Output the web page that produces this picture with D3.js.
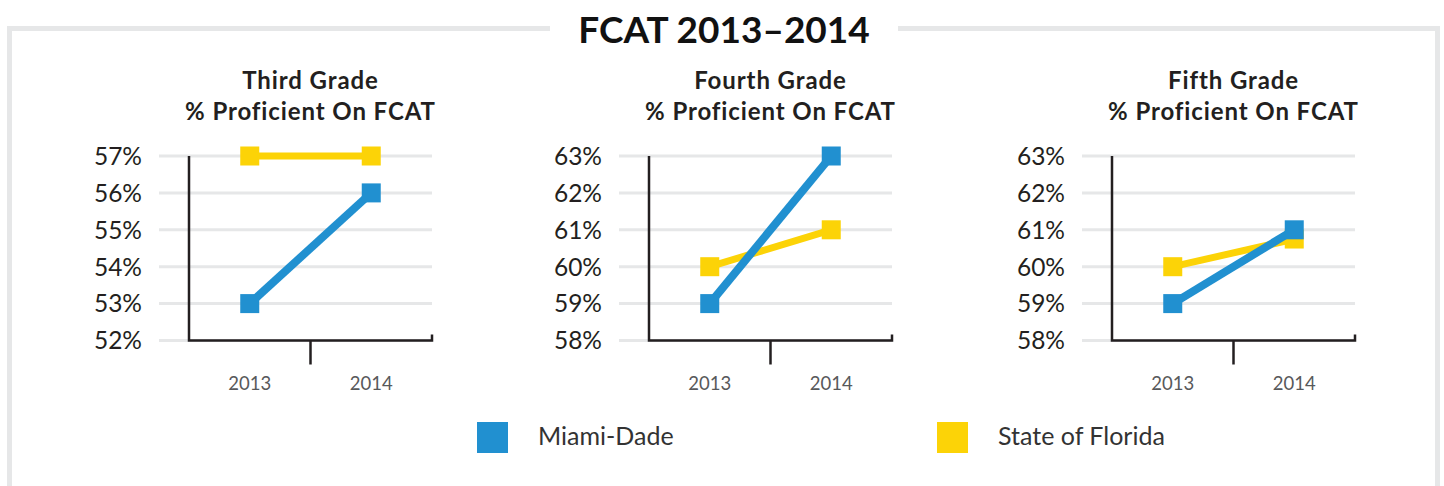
<!DOCTYPE html>
<html>
<head>
<meta charset="utf-8">
<script src="https://cdn.jsdelivr.net/npm/d3@7"></script>
<style>
  body { margin: 0; background: #fff; }
  text { font-family: Lato, "Open Sans", sans-serif; fill: #231f20; }
</style>
</head>
<body>
<div id="chart"></div>
<script>
// data
var years = ["2013", "2014"];
var grades = ["Third Grade", "Fourth Grade", "Fifth Grade"];
var miamiDade = [[53, 56], [59, 63], [59, 61]];
var stateFlorida = [[57, 57], [60, 61], [60, 60.75]];
var yDomains = [[52, 57], [58, 63], [58, 63]];
var seriesNames = ["Miami-Dade", "State of Florida"];
var title = "FCAT 2013\u20132014";

var colors = ["#2190d0", "#fcd307"];

var svg = d3.select('#chart').append('svg').attr("width", 1444).attr("height", 486);

// outer frame
svg.append("rect")
    .attr("x", 9.5).attr("y", 28.5)
    .attr("width", 1428).attr("height", 480)
    .attr("fill", "none")
    .attr("stroke", "#e6e7e8")
    .attr("stroke-width", 5);
svg.append("rect")
    .attr("x", 550).attr("y", 20)
    .attr("width", 348).attr("height", 16)
    .attr("fill", "#fff");
svg.append("text")
    .attr("x", 724).attr("y", 43)
    .attr("text-anchor", "middle")
    .style("font-size", "37px")
    .style("font-weight", "bold")
    .style("fill", "#111")
    .text(title);

var panelX = [189, 649, 1112];
var width = 243;
var yTop = 156, yBottom = 340.5;

grades.forEach(function (grade, i) {
    var g = svg.append("g").attr("transform", "translate(" + panelX[i] + ",0)");

    var x_scale = d3.scalePoint().domain(years).range([0, width]).padding(0.5);
    var y_scale = d3.scaleLinear().domain(yDomains[i]).range([yBottom, yTop]);
    var ticks = d3.range(yDomains[i][0], yDomains[i][1] + 1);

    // titles
    g.append("text").attr("x", width / 2).attr("y", 89)
        .attr("text-anchor", "middle")
        .style("font-size", "24px").style("font-weight", "bold")
        .style("letter-spacing", "0.9px")
        .text(grade);
    g.append("text").attr("x", width / 2).attr("y", 120)
        .attr("text-anchor", "middle")
        .style("font-size", "24px").style("font-weight", "bold")
        .style("letter-spacing", "0.9px")
        .text("% Proficient On FCAT");

    // gridlines
    g.selectAll(".grid")
        .data(ticks)
        .enter()
        .append("line")
        .attr("x1", -30).attr("x2", width)
        .attr("y1", function (d) { return y_scale(d); })
        .attr("y2", function (d) { return y_scale(d); })
        .attr("stroke", "#e6e7e8")
        .attr("stroke-width", 3);

    // y labels
    g.selectAll(".ylab")
        .data(ticks)
        .enter()
        .append("text")
        .attr("x", -47)
        .attr("y", function (d) { return y_scale(d); })
        .attr("dy", "0.36em")
        .attr("text-anchor", "end")
        .style("font-size", "24.5px")
        .text(function (d) { return d + "%"; });

    // axes lines
    g.append("path")
        .attr("d", "M0," + yTop + "V" + yBottom + "H" + width + "V" + (yBottom - 6))
        .attr("fill", "none")
        .attr("stroke", "#231f20")
        .attr("stroke-width", 2.5);
    g.append("line")
        .attr("x1", width / 2).attr("x2", width / 2)
        .attr("y1", yBottom).attr("y2", yBottom + 24)
        .attr("stroke", "#231f20")
        .attr("stroke-width", 2.5);

    // x labels
    g.selectAll(".xlab")
        .data(years)
        .enter()
        .append("text")
        .attr("x", function (d) { return x_scale(d); })
        .attr("y", 390)
        .attr("text-anchor", "middle")
        .style("font-size", "18.5px")
        .style("fill", "#58595b")
        .text(function (d) { return d; });

    // series
    [stateFlorida[i], miamiDade[i]].forEach(function (vals, k) {
        var color = k == 0 ? colors[1] : colors[0];
        var pts = years.map(function (y, j) { return [x_scale(y), y_scale(vals[j])]; });
        g.append("path")
            .attr("d", d3.line()(pts))
            .attr("fill", "none")
            .attr("stroke", color)
            .attr("stroke-width", k == 0 ? 7 : 8);
        g.selectAll(".pt" + k)
            .data(pts)
            .enter()
            .append("rect")
            .attr("x", function (d) { return d[0] - 9.5; })
            .attr("y", function (d) { return d[1] - 9.5; })
            .attr("width", 19).attr("height", 19)
            .attr("fill", color);
    });
});

// legend
var legendX = [477, 937];
seriesNames.forEach(function (name, i) {
    svg.append("rect")
        .attr("x", legendX[i]).attr("y", 422)
        .attr("width", 31).attr("height", 31)
        .attr("fill", colors[i]);
    svg.append("text")
        .attr("x", legendX[i] + 61).attr("y", 445)
        .style("font-size", "25px")
        .style("fill", "#333")
        .text(name);
});
</script>
</body>
</html>
